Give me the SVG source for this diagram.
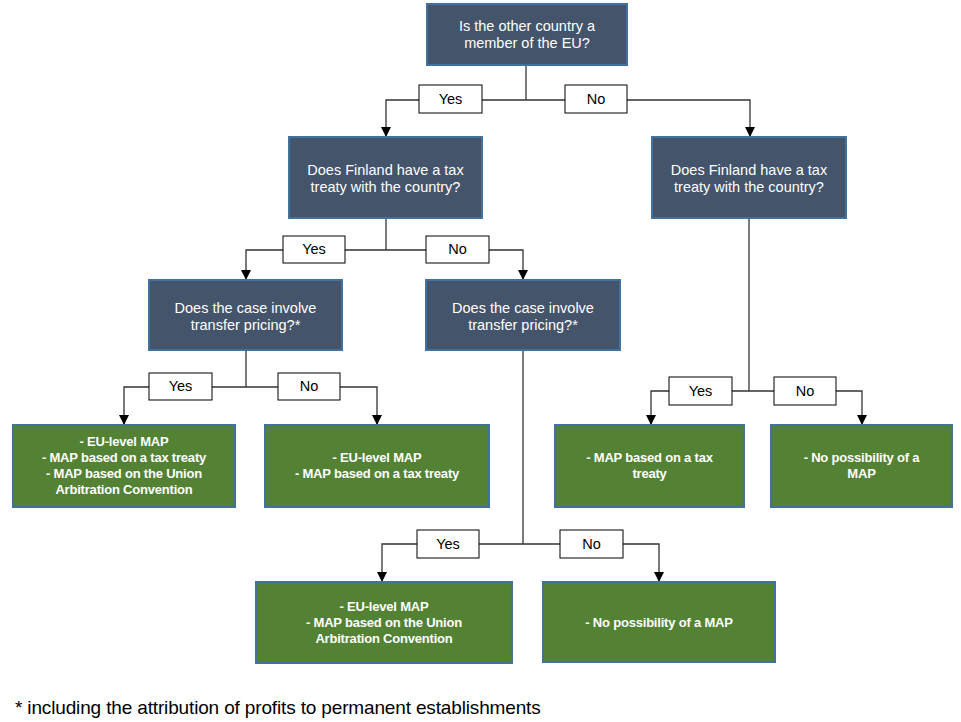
<svg xmlns="http://www.w3.org/2000/svg" width="961" height="722" viewBox="0 0 961 722">
<style>
.q{fill:#44546A;stroke:#41719C;stroke-width:2}
.g{fill:#548235;stroke:#41719C;stroke-width:2}
.qt{fill:#fff;font-family:"Liberation Sans",Arial,sans-serif;font-size:14.5px;text-anchor:middle}
.gt{fill:#fff;font-family:"Liberation Sans",Arial,sans-serif;font-size:13px;font-weight:bold;text-anchor:middle;letter-spacing:-0.2px}
.lb{fill:#fff;stroke:#000;stroke-width:1}
.lt{fill:#000;font-family:"Liberation Sans",Arial,sans-serif;font-size:14.5px;text-anchor:middle}
.c{fill:none;stroke:#333;stroke-width:1.3}
</style>
<defs>
<marker id="ah" viewBox="0 0 10 10" refX="10" refY="5" markerWidth="10" markerHeight="10" markerUnits="userSpaceOnUse" orient="auto">
<path d="M0,0 L10,5 L0,10 Z" fill="#000"/>
</marker>
</defs>
<rect width="961" height="722" fill="#fff"/>
<g id="connectors">
<path class="c" d="M526,65 V100"/>
<path class="c" d="M526,100 H386 V137" marker-end="url(#ah)"/>
<path class="c" d="M526,100 H750 V137" marker-end="url(#ah)"/>
<path class="c" d="M386,218 V250"/>
<path class="c" d="M386,250 H246 V280" marker-end="url(#ah)"/>
<path class="c" d="M386,250 H523 V280" marker-end="url(#ah)"/>
<path class="c" d="M246,350 V387"/>
<path class="c" d="M246,387 H124 V425" marker-end="url(#ah)"/>
<path class="c" d="M246,387 H377 V425" marker-end="url(#ah)"/>
<path class="c" d="M749,218 V391"/>
<path class="c" d="M749,391 H651 V425" marker-end="url(#ah)"/>
<path class="c" d="M749,391 H862 V425" marker-end="url(#ah)"/>
<path class="c" d="M523,350 V544"/>
<path class="c" d="M523,544 H382 V582" marker-end="url(#ah)"/>
<path class="c" d="M523,544 H659 V582" marker-end="url(#ah)"/>
<g id="labels">
<rect class="lb" x="419" y="85" width="63" height="28"/><text class="lt" x="450.5" y="104">Yes</text>
<rect class="lb" x="565" y="85" width="62" height="28"/><text class="lt" x="596" y="104">No</text>
<rect class="lb" x="283" y="236" width="62" height="27"/><text class="lt" x="314" y="254">Yes</text>
<rect class="lb" x="426" y="236" width="63" height="27"/><text class="lt" x="457.5" y="254">No</text>
<rect class="lb" x="149" y="373" width="63" height="27"/><text class="lt" x="180.5" y="391">Yes</text>
<rect class="lb" x="278" y="373" width="62" height="27"/><text class="lt" x="309" y="391">No</text>
<rect class="lb" x="669" y="377" width="63" height="28"/><text class="lt" x="700.5" y="396">Yes</text>
<rect class="lb" x="774" y="377" width="62" height="28"/><text class="lt" x="805" y="396">No</text>
<rect class="lb" x="417" y="530" width="62" height="28"/><text class="lt" x="448" y="549">Yes</text>
<rect class="lb" x="560" y="530" width="63" height="28"/><text class="lt" x="591.5" y="549">No</text>
</g>
</g>
<g id="q-eu">
<rect class="q" x="427" y="4" width="200" height="61"/>
<text class="qt" x="527" y="31">Is the other country a</text>
<text class="qt" x="527" y="48">member of the EU?</text>
</g>
<g id="q-treaty-eu">
<rect class="q" x="289" y="137" width="193" height="81"/>
<text class="qt" x="385.5" y="175">Does Finland have a tax</text>
<text class="qt" x="385.5" y="192">treaty with the country?</text>
</g>
<g id="q-treaty-noneu">
<rect class="q" x="652" y="137" width="194" height="81"/>
<text class="qt" x="749" y="175">Does Finland have a tax</text>
<text class="qt" x="749" y="192">treaty with the country?</text>
</g>
<g id="q-tp-treaty">
<rect class="q" x="149" y="280" width="193" height="70"/>
<text class="qt" x="245.5" y="313">Does the case involve</text>
<text class="qt" x="245.5" y="330">transfer pricing?*</text>
</g>
<g id="q-tp-notreaty">
<rect class="q" x="426" y="280" width="194" height="70"/>
<text class="qt" x="523" y="313">Does the case involve</text>
<text class="qt" x="523" y="330">transfer pricing?*</text>
</g>
<g id="r1">
<rect class="g" x="13" y="425" width="222" height="82"/>
<text class="gt" x="124" y="446">- EU-level MAP</text>
<text class="gt" x="124" y="462">- MAP based on a tax treaty</text>
<text class="gt" x="124" y="478">- MAP based on the Union</text>
<text class="gt" x="124" y="494">Arbitration Convention</text>
</g>
<g id="r2">
<rect class="g" x="265" y="425" width="224" height="82"/>
<text class="gt" x="377" y="462">- EU-level MAP</text>
<text class="gt" x="377" y="478">- MAP based on a tax treaty</text>
</g>
<g id="r3">
<rect class="g" x="555" y="425" width="189" height="82"/>
<text class="gt" x="649.5" y="462">- MAP based on a tax</text>
<text class="gt" x="649.5" y="478">treaty</text>
</g>
<g id="r4">
<rect class="g" x="771" y="425" width="181" height="82"/>
<text class="gt" x="861.5" y="462">- No possibility of a</text>
<text class="gt" x="861.5" y="478">MAP</text>
</g>
<g id="r5">
<rect class="g" x="256" y="582" width="256" height="81"/>
<text class="gt" x="384" y="611">- EU-level MAP</text>
<text class="gt" x="384" y="627">- MAP based on the Union</text>
<text class="gt" x="384" y="643">Arbitration Convention</text>
</g>
<g id="r6">
<rect class="g" x="543" y="582" width="232" height="80"/>
<text class="gt" x="659" y="627">- No possibility of a MAP</text>
</g>
<text x="15" y="714" font-family="Liberation Sans, Arial, sans-serif" font-size="19" fill="#000" letter-spacing="-0.15">* including the attribution of profits to permanent establishments</text>
</svg>
